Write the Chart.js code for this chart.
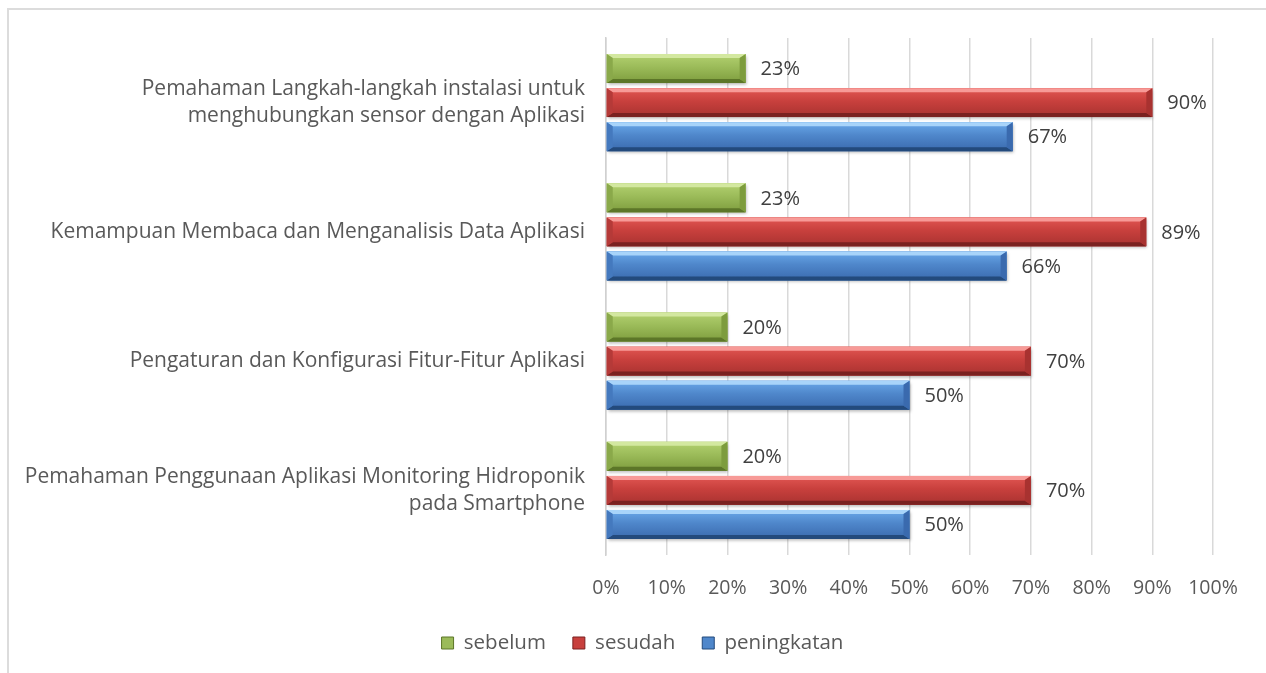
<!DOCTYPE html>
<html>
<head>
<meta charset="utf-8">
<script src="https://cdn.jsdelivr.net/npm/chart.js@4.4.0/dist/chart.umd.min.js"></script>
<style>
  html, body { margin: 0; padding: 0; background: #ffffff; }
  #wrap { position: relative; width: 1266px; height: 673px; overflow: hidden; }
  #frame { position: absolute; left: 7px; top: 8px; right: -5px; bottom: -5px;
           border-left: 2px solid #dcdcdc; border-top: 2px solid #dcdcdc; }
  canvas { position: absolute; left: 0; top: 0; }
</style>
</head>
<body>
<div id="wrap">
  <div id="frame"></div>
  <canvas id="c" width="1266" height="673"></canvas>
</div>
<script>
// ---- data ----
const categories = [
  ["Pemahaman Langkah-langkah instalasi untuk", "menghubungkan sensor dengan Aplikasi"],
  "Kemampuan Membaca dan Menganalisis Data Aplikasi",
  "Pengaturan dan Konfigurasi Fitur-Fitur Aplikasi",
  ["Pemahaman Penggunaan Aplikasi Monitoring Hidroponik", "pada Smartphone"]
];
const seriesNames = ["sebelum", "sesudah", "peningkatan"];
const sebelum = [23, 23, 20, 20];
const sesudah = [90, 89, 70, 70];
const peningkatan = [67, 66, 50, 50];
const xTickValues = [0, 10, 20, 30, 40, 50, 60, 70, 80, 90, 100];

// ---- styles ----
const palettes = [
  { top: '#d3e8a0', light: '#b3d170', mid: '#9bbb59', dark: '#7d9c3d', bottom: '#5c7628', side: '#8aa94a' },
  { top: '#f79a97', light: '#e25753', mid: '#c8403d', dark: '#a83230', bottom: '#7a2120', side: '#b53a38' },
  { top: '#a8d4fa', light: '#6aa9ea', mid: '#4f87cb', dark: '#3a6aae', bottom: '#234a7c', side: '#4479be' }
];
const FONT = "'Open Sans', 'Noto Sans', sans-serif";
const AREA_TOP = 38, AREA_BOTTOM = 555, AREA_LEFT = 606, AREA_RIGHT = 1213;

const bevelPlugin = {
  id: 'bevel',
  afterDatasetsDraw(chart) {
    const ctx = chart.ctx;
    chart.data.datasets.forEach((ds, di) => {
      const meta = chart.getDatasetMeta(di);
      if (meta.hidden) return;
      const p = palettes[di];
      meta.data.forEach((bar) => {
        const pr = bar.getProps(['x', 'y', 'base', 'height'], true);
        const top = pr.y - pr.height / 2, bot = pr.y + pr.height / 2;
        const left = Math.min(pr.base, pr.x), right = Math.max(pr.base, pr.x);
        const w = right - left, h = bot - top;
        if (w <= 0) return;
        ctx.save();
        ctx.shadowColor = 'rgba(0,0,0,0.28)';
        ctx.shadowBlur = 3;
        ctx.shadowOffsetX = 1;
        ctx.shadowOffsetY = 2;
        const g = ctx.createLinearGradient(0, top, 0, bot);
        g.addColorStop(0, p.light);
        g.addColorStop(0.45, p.mid);
        g.addColorStop(1, p.dark);
        ctx.fillStyle = g;
        ctx.fillRect(left, top, w, h);
        ctx.restore();
        ctx.save();
        const b = 4, s = Math.min(6, w / 2);
        ctx.fillStyle = p.top;
        ctx.beginPath();
        ctx.moveTo(left, top); ctx.lineTo(right, top);
        ctx.lineTo(right - s, top + b); ctx.lineTo(left + s, top + b);
        ctx.closePath(); ctx.fill();
        ctx.fillStyle = p.bottom;
        ctx.beginPath();
        ctx.moveTo(left, bot); ctx.lineTo(right, bot);
        ctx.lineTo(right - s, bot - b); ctx.lineTo(left + s, bot - b);
        ctx.closePath(); ctx.fill();
        ctx.fillStyle = p.side;
        ctx.beginPath();
        ctx.moveTo(left, top); ctx.lineTo(left + s, top + b);
        ctx.lineTo(left + s, bot - b); ctx.lineTo(left, bot);
        ctx.closePath(); ctx.fill();
        ctx.fillStyle = p.dark;
        ctx.beginPath();
        ctx.moveTo(right, top); ctx.lineTo(right - s, top + b);
        ctx.lineTo(right - s, bot - b); ctx.lineTo(right, bot);
        ctx.closePath(); ctx.fill();
        ctx.restore();
      });
    });
  }
};

const valueLabelPlugin = {
  id: 'valueLabels',
  afterDatasetsDraw(chart) {
    const ctx = chart.ctx;
    ctx.save();
    ctx.font = "20px " + FONT;
    ctx.fillStyle = '#404040';
    ctx.textAlign = 'left';
    ctx.textBaseline = 'middle';
    chart.data.datasets.forEach((ds, di) => {
      const meta = chart.getDatasetMeta(di);
      if (meta.hidden) return;
      meta.data.forEach((bar, i) => {
        const pr = bar.getProps(['x', 'y'], true);
        ctx.fillText(ds.data[i] + '%', pr.x + 15, pr.y + 1);
      });
    });
    ctx.restore();
  }
};

const LEGEND_FONT = 20.5, LEGEND_PAD = 27;
const legendPlace = {
  id: 'legendPlace',
  afterLayout(chart) {
    const lg = chart.legend;
    if (!lg) return;
    lg.left += 36; lg.right += 36;
    const h = lg.bottom - lg.top;
    lg.top = 643 - LEGEND_PAD - LEGEND_FONT / 2;
    lg.bottom = lg.top + h;
  }
};

const seriesData = [sebelum, sesudah, peningkatan];
const datasets = seriesNames.map((name, i) => ({
  label: name,
  data: seriesData[i],
  backgroundColor: palettes[i].mid,
  borderWidth: 0,
  categoryPercentage: 0.79,
  barPercentage: 0.85
}));

new Chart(document.getElementById('c'), {
  type: 'bar',
  data: { labels: categories, datasets },
  plugins: [bevelPlugin, valueLabelPlugin, legendPlace],
  options: {
    indexAxis: 'y',
    responsive: false,
    animation: false,
    devicePixelRatio: 1,
    layout: { padding: { top: AREA_TOP, right: 1266 - AREA_RIGHT, bottom: 0, left: 0 } },
    scales: {
      x: {
        min: 0, max: 100,
        afterBuildTicks(scale) { scale.ticks = xTickValues.map(v => ({ value: v })); },
        afterFit(scale) {
          const lg = scale.chart.legend;
          const lh = lg ? lg.height : 0;
          scale.height = 673 - lh - AREA_BOTTOM;
          scale.paddingLeft = 0; scale.paddingRight = 0;
        },
        grid: { color: '#d9d9d9', lineWidth: 1.5, drawTicks: false },
        border: { display: false },
        ticks: {
          color: '#595959', padding: 22, maxRotation: 0, autoSkip: false,
          font: { family: FONT, size: 19.5 },
          callback: (v) => v + '%'
        }
      },
      y: {
        afterFit(scale) {
          scale.width = AREA_LEFT;
          scale.paddingTop = 0; scale.paddingBottom = 0;
        },
        grid: { display: false, drawTicks: false },
        border: { display: true, color: '#d0d0d0', width: 1.5 },
        ticks: {
          color: '#595959', padding: 21, autoSkip: false,
          font: { family: FONT, size: 21, lineHeight: 27 / 21 }
        }
      }
    },
    plugins: {
      legend: {
        position: 'bottom',
        labels: {
          color: '#595959', boxWidth: 12, boxHeight: 12, padding: LEGEND_PAD,
          font: { family: FONT, size: LEGEND_FONT },
          generateLabels(chart) {
            return chart.data.datasets.map((ds, i) => ({
              text: ds.label,
              fillStyle: palettes[i].mid,
              strokeStyle: palettes[i].bottom,
              lineWidth: 1,
              hidden: !chart.isDatasetVisible(i),
              datasetIndex: i,
              fontColor: '#595959'
            }));
          }
        }
      },
      tooltip: { enabled: false }
    }
  }
});
</script>
</body>
</html>
